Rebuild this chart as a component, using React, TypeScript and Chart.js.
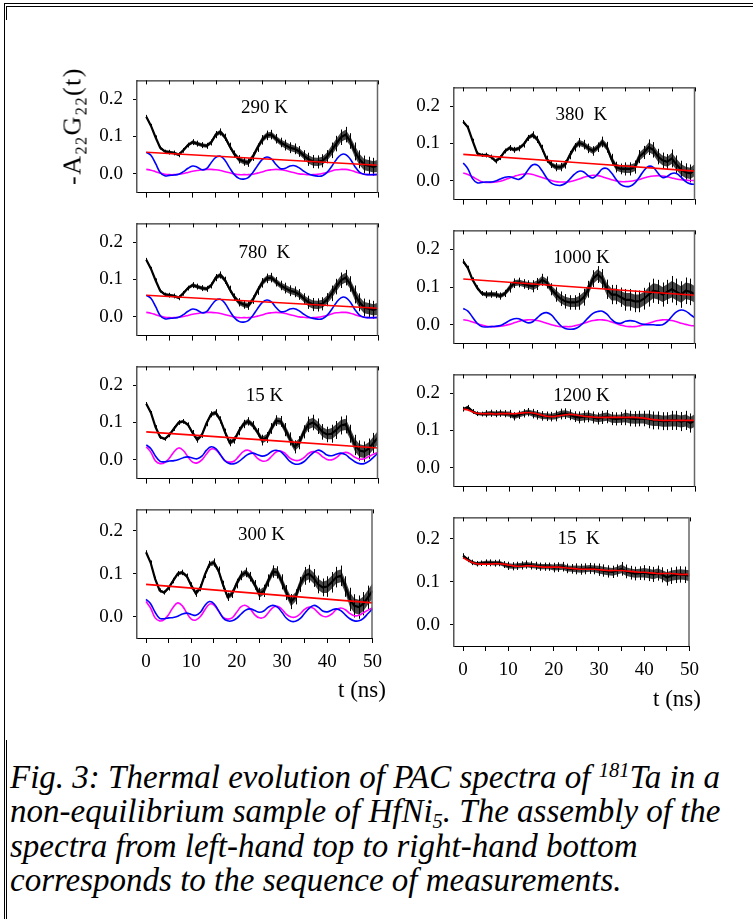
import React, { useEffect, useRef } from "react";
import { Chart, registerables } from "chart.js";

Chart.register(...registerables);

const SERIF = '"Liberation Serif", "Times New Roman", serif';

// time axis (ns)
const tNs = [
  0, 1, 2, 3, 4, 5, 6, 7, 8, 9,
  10, 11, 12, 13, 14, 15, 16, 17, 18, 19,
  20, 21, 22, 23, 24, 25, 26, 27, 28, 29,
  30, 31, 32, 33, 34, 35, 36, 37, 38, 39,
  40, 41, 42, 43, 44, 45, 46, 47, 48, 49,
  50,
];
const redLineT = [0, 50];

// ---- 290 K ----
const black290 = [
  0.153, 0.129, 0.098, 0.070, 0.060, 0.058, 0.056, 0.051, 0.063, 0.077,
  0.085, 0.081, 0.077, 0.075, 0.084, 0.105, 0.112, 0.098, 0.074, 0.053,
  0.039, 0.033, 0.030, 0.046, 0.070, 0.091, 0.103, 0.105, 0.094, 0.084,
  0.077, 0.070, 0.067, 0.060, 0.049, 0.039, 0.033, 0.032, 0.035, 0.046,
  0.063, 0.081, 0.098, 0.105, 0.088, 0.060, 0.039, 0.025, 0.022, 0.019,
  0.022,
];
const err290 = [0.003, 0.004, 0.005, 0.006, 0.007, 0.008, 0.009, 0.011, 0.013, 0.015, 0.016];
const red290 = [0.058, 0.023];
const blue290 = [
  0.058, 0.050, 0.028, 0.004, -0.005, -0.004, -0.003, -0.001, 0.006, 0.015,
  0.021, 0.018, 0.011, 0.014, 0.030, 0.044, 0.047, 0.036, 0.016, -0.002,
  -0.012, -0.014, -0.010, 0.004, 0.022, 0.038, 0.045, 0.040, 0.025, 0.014,
  0.015, 0.021, 0.022, 0.016, 0.007, 0.000, -0.004, -0.006, -0.005, 0.004,
  0.020, 0.038, 0.051, 0.052, 0.040, 0.020, 0.005, -0.001, -0.002, -0.002,
  -0.001,
];
const magenta290 = [
  0.012, 0.010, 0.006, 0.002, -0.001, -0.002, -0.002, -0.001, 0.001, 0.004,
  0.007, 0.009, 0.011, 0.012, 0.012, 0.011, 0.009, 0.006, 0.003, 0.000,
  -0.002, -0.002, -0.002, -0.001, 0.002, 0.005, 0.009, 0.011, 0.012, 0.011,
  0.009, 0.006, 0.003, 0.000, -0.001, -0.002, -0.002, -0.001, 0.001, 0.004,
  0.008, 0.011, 0.012, 0.012, 0.010, 0.006, 0.002, -0.001, -0.002, -0.002,
  -0.002,
];

// ---- 780 K (same shape as 290 K in the figure) ----
const black780 = black290;
const err780 = err290;
const red780 = red290;
const blue780 = blue290;
const magenta780 = magenta290;

// ---- 15 K (left) ----
const black15a = [
  0.150, 0.126, 0.088, 0.061, 0.056, 0.067, 0.084, 0.100, 0.103, 0.094,
  0.072, 0.054, 0.067, 0.098, 0.122, 0.126, 0.107, 0.074, 0.046, 0.053,
  0.077, 0.096, 0.103, 0.093, 0.074, 0.053, 0.060, 0.084, 0.105, 0.103,
  0.081, 0.056, 0.035, 0.046, 0.075, 0.095, 0.100, 0.090, 0.075, 0.068,
  0.070, 0.080, 0.092, 0.095, 0.070, 0.040, 0.025, 0.022, 0.030, 0.045,
  0.060,
];
const err15a = [0.003, 0.004, 0.005, 0.006, 0.007, 0.009, 0.011, 0.013, 0.015, 0.017, 0.018];
const red15a = [0.075, 0.032];
const blue15a = [
  0.040, 0.030, 0.010, -0.004, -0.005, -0.003, -0.002, 0.001, 0.006, 0.008,
  0.005, 0.003, 0.010, 0.026, 0.035, 0.030, 0.014, -0.003, -0.010, -0.010,
  -0.004, 0.006, 0.015, 0.018, 0.014, 0.010, 0.013, 0.022, 0.026, 0.022,
  0.010, -0.004, -0.011, -0.011, -0.005, 0.007, 0.019, 0.026, 0.022, 0.013,
  0.011, 0.015, 0.018, 0.014, 0.004, -0.005, -0.010, -0.010, -0.004, 0.007,
  0.018,
];
const magenta15a = [
  0.035, 0.020, -0.003, -0.010, -0.007, 0.005, 0.022, 0.032, 0.025, 0.008,
  -0.006, -0.008, 0.000, 0.016, 0.029, 0.027, 0.013, -0.002, -0.006, -0.003,
  0.010, 0.023, 0.026, 0.018, 0.004, -0.003, -0.002, 0.009, 0.021, 0.024,
  0.017, 0.005, -0.001, -0.001, 0.006, 0.017, 0.022, 0.019, 0.009, 0.001,
  0.000, 0.006, 0.016, 0.020, 0.016, 0.007, 0.002, 0.003, 0.009, 0.015,
  0.020,
];

// ---- 300 K (same shape as 15 K in the figure) ----
const black300 = black15a;
const err300 = err15a;
const red300 = red15a;
const blue300 = blue15a;
const magenta300 = magenta15a;

// ---- 380 K ----
const black380 = [
  0.158, 0.143, 0.108, 0.074, 0.069, 0.069, 0.064, 0.053, 0.062, 0.080,
  0.088, 0.083, 0.087, 0.097, 0.115, 0.123, 0.111, 0.087, 0.058, 0.044,
  0.037, 0.037, 0.044, 0.069, 0.090, 0.102, 0.097, 0.087, 0.080, 0.090,
  0.104, 0.090, 0.058, 0.037, 0.032, 0.032, 0.032, 0.037, 0.065, 0.076,
  0.090, 0.083, 0.065, 0.055, 0.051, 0.060, 0.044, 0.030, 0.023, 0.020,
  0.030,
];
const err380 = [0.003, 0.004, 0.005, 0.006, 0.007, 0.008, 0.009, 0.011, 0.013, 0.015, 0.016];
const red380 = [0.071, 0.026];
const blue380 = [
  0.048, 0.032, 0.006, -0.005, -0.004, -0.003, -0.003, 0.000, 0.005, 0.010,
  0.011, 0.007, 0.004, 0.012, 0.030, 0.043, 0.042, 0.027, 0.008, -0.006,
  -0.011, -0.012, -0.007, 0.005, 0.018, 0.026, 0.024, 0.013, 0.008, 0.018,
  0.032, 0.033, 0.021, 0.004, -0.010, -0.015, -0.014, -0.006, 0.010, 0.028,
  0.039, 0.036, 0.021, 0.009, 0.012, 0.020, 0.020, 0.010, -0.002, -0.008,
  -0.009,
];
const magenta380 = [
  0.021, 0.017, 0.011, 0.004, -0.002, -0.004, -0.004, -0.003, -0.001, 0.003,
  0.008, 0.012, 0.016, 0.018, 0.019, 0.017, 0.013, 0.009, 0.005, 0.001,
  -0.002, -0.003, -0.003, -0.002, 0.001, 0.005, 0.010, 0.013, 0.015, 0.014,
  0.011, 0.007, 0.003, 0.000, -0.002, -0.002, -0.001, 0.001, 0.004, 0.008,
  0.011, 0.013, 0.014, 0.013, 0.011, 0.008, 0.005, 0.003, 0.002, 0.001,
  0.001,
];

// ---- 1000 K ----
const black1000 = [
  0.168, 0.150, 0.119, 0.098, 0.083, 0.080, 0.081, 0.080, 0.076, 0.083,
  0.098, 0.110, 0.112, 0.108, 0.105, 0.102, 0.108, 0.119, 0.112, 0.094,
  0.080, 0.069, 0.062, 0.059, 0.059, 0.062, 0.073, 0.094, 0.122, 0.133,
  0.122, 0.094, 0.080, 0.080, 0.073, 0.066, 0.066, 0.062, 0.062, 0.069,
  0.080, 0.090, 0.087, 0.080, 0.087, 0.094, 0.087, 0.080, 0.090, 0.087,
  0.080,
];
const err1000 = [0.004, 0.006, 0.008, 0.010, 0.012, 0.014, 0.016, 0.018, 0.020, 0.022, 0.022];
const red1000 = [0.121, 0.078];
const blue1000 = [
  0.043, 0.036, 0.020, 0.004, -0.005, -0.006, -0.005, -0.004, -0.002, 0.004,
  0.011, 0.016, 0.016, 0.010, 0.005, 0.008, 0.019, 0.029, 0.032, 0.026,
  0.012, -0.002, -0.010, -0.012, -0.011, -0.005, 0.006, 0.019, 0.030, 0.035,
  0.036, 0.028, 0.014, 0.005, 0.004, 0.009, 0.011, 0.009, 0.004, 0.001,
  0.000, 0.000, -0.001, 0.000, 0.008, 0.022, 0.034, 0.039, 0.036, 0.027,
  0.018,
];
const magenta1000 = [
  0.013, 0.011, 0.007, 0.003, -0.001, -0.004, -0.005, -0.005, -0.004, -0.002,
  0.001, 0.005, 0.009, 0.012, 0.013, 0.013, 0.011, 0.008, 0.004, 0.000,
  -0.003, -0.005, -0.005, -0.005, -0.003, 0.000, 0.004, 0.008, 0.011, 0.013,
  0.013, 0.011, 0.007, 0.003, -0.001, -0.004, -0.005, -0.005, -0.003, 0.000,
  0.004, 0.008, 0.011, 0.013, 0.013, 0.011, 0.008, 0.004, 0.001, -0.002,
  -0.003,
];

// ---- 1200 K ----
const black1200 = [
  0.157, 0.162, 0.151, 0.145, 0.144, 0.145, 0.146, 0.145, 0.146, 0.145,
  0.144, 0.138, 0.142, 0.146, 0.149, 0.145, 0.142, 0.139, 0.138, 0.137,
  0.139, 0.144, 0.145, 0.142, 0.137, 0.135, 0.137, 0.138, 0.135, 0.132,
  0.135, 0.137, 0.132, 0.131, 0.132, 0.135, 0.132, 0.131, 0.132, 0.132,
  0.130, 0.127, 0.127, 0.125, 0.125, 0.127, 0.127, 0.124, 0.127, 0.120,
  0.127,
];
const err1200 = [0.004, 0.006, 0.007, 0.008, 0.009, 0.010, 0.011, 0.013, 0.015, 0.016, 0.017];
const red1200 = [
  0.157, 0.155, 0.150, 0.146, 0.145, 0.145, 0.145, 0.144, 0.145, 0.145,
  0.145, 0.145, 0.146, 0.147, 0.148, 0.147, 0.144, 0.141, 0.138, 0.137,
  0.138, 0.140, 0.142, 0.143, 0.142, 0.140, 0.138, 0.137, 0.136, 0.135,
  0.135, 0.135, 0.135, 0.135, 0.135, 0.135, 0.135, 0.135, 0.134, 0.133,
  0.131, 0.129, 0.128, 0.127, 0.127, 0.127, 0.127, 0.127, 0.127, 0.127,
  0.127,
];

// ---- 15 K (right) ----
const black15b = [
  0.160, 0.152, 0.145, 0.142, 0.143, 0.144, 0.144, 0.143, 0.144, 0.140,
  0.137, 0.136, 0.137, 0.138, 0.140, 0.138, 0.137, 0.135, 0.135, 0.135,
  0.133, 0.134, 0.135, 0.131, 0.130, 0.130, 0.129, 0.130, 0.131, 0.130,
  0.128, 0.126, 0.124, 0.123, 0.126, 0.130, 0.124, 0.121, 0.119, 0.120,
  0.121, 0.119, 0.117, 0.120, 0.116, 0.110, 0.114, 0.116, 0.117, 0.116,
  0.114,
];
const err15b = [0.004, 0.005, 0.006, 0.006, 0.007, 0.008, 0.009, 0.010, 0.011, 0.012, 0.013];
const red15b = [
  0.156, 0.150, 0.145, 0.142, 0.141, 0.141, 0.141, 0.142, 0.142, 0.141,
  0.139, 0.137, 0.136, 0.136, 0.137, 0.137, 0.136, 0.135, 0.134, 0.134,
  0.134, 0.134, 0.133, 0.132, 0.131, 0.130, 0.129, 0.129, 0.129, 0.129,
  0.128, 0.127, 0.126, 0.126, 0.126, 0.126, 0.125, 0.124, 0.123, 0.122,
  0.122, 0.121, 0.120, 0.119, 0.119, 0.119, 0.119, 0.118, 0.117, 0.117,
  0.117,
];

interface PanelSpec {
  label: string;
  black: number[];
  err: number[];
  redT: number[];
  red: number[];
  blue?: number[];
  magenta?: number[];
}

const panelSpecs: PanelSpec[] = [
  { label: "290 K", black: black290, err: err290, redT: redLineT, red: red290, blue: blue290, magenta: magenta290 },
  { label: "780  K", black: black780, err: err780, redT: redLineT, red: red780, blue: blue780, magenta: magenta780 },
  { label: "15 K", black: black15a, err: err15a, redT: redLineT, red: red15a, blue: blue15a, magenta: magenta15a },
  { label: "300 K", black: black300, err: err300, redT: redLineT, red: red300, blue: blue300, magenta: magenta300 },
  { label: "380  K", black: black380, err: err380, redT: redLineT, red: red380, blue: blue380, magenta: magenta380 },
  { label: "1000 K", black: black1000, err: err1000, redT: redLineT, red: red1000, blue: blue1000, magenta: magenta1000 },
  { label: "1200 K", black: black1200, err: err1200, redT: tNs, red: red1200 },
  { label: "15  K", black: black15b, err: err15b, redT: tNs, red: red15b },
];

interface Geo { left: number; top: number; h: number; bottom: boolean; labelDy: number; }
const panelGeo: Geo[] = [
  { left: 137, top: 65, h: 143, bottom: false, labelDy: 28 },
  { left: 137, top: 208, h: 143, bottom: false, labelDy: 30 },
  { left: 137, top: 351, h: 143, bottom: false, labelDy: 30 },
  { left: 137, top: 494, h: 144, bottom: true, labelDy: 26 },
  { left: 454, top: 72, h: 143, bottom: false, labelDy: 28 },
  { left: 454, top: 215, h: 144, bottom: false, labelDy: 28 },
  { left: 454, top: 359, h: 143, bottom: false, labelDy: 22 },
  { left: 454, top: 502, h: 144, bottom: true, labelDy: 22 },
];

const AXW = 60;
const PADT = 6;
const PADR = 12;
const PLOTW = 241;

function Panel({ spec, geo }: { spec: PanelSpec; geo: Geo }) {
  const ref = useRef<HTMLCanvasElement | null>(null);
  const axH = geo.bottom ? 34 : 6;
  const W = AXW + PLOTW + PADR;
  const H = PADT + geo.h + axH;

  useEffect(() => {
    if (!ref.current) return;
    const pts = (xs: number[], ys: number[]) => ys.map((y, i) => ({ x: xs[i], y }));
    const errAt = (i: number) => spec.err[Math.floor(tNs[i] / 5)];
    const upper = spec.black.map((v, i) => ({ x: tNs[i], y: v + errAt(i) }));
    const lower = spec.black.map((v, i) => ({ x: tNs[i], y: v - errAt(i) }));
    const datasets: any[] = [
      { data: pts(spec.redT, spec.red), borderColor: "#ff0000", borderWidth: 1.6, tension: 0.4, order: 0, fill: false },
      { data: pts(tNs, spec.black), borderColor: "#000000", borderWidth: 2.2, tension: 0, order: 1, fill: false },
      { data: upper, borderColor: "rgba(0,0,0,0)", borderWidth: 1, tension: 0, order: 2, fill: false },
      { data: lower, borderColor: "rgba(0,0,0,0)", borderWidth: 1, tension: 0, order: 2, fill: "-1", backgroundColor: "rgba(0,0,0,0.72)" },
    ];
    if (spec.blue) datasets.push({ data: pts(tNs, spec.blue), borderColor: "#0000ff", borderWidth: 1.6, tension: 0.4, order: 3, fill: false });
    if (spec.magenta) datasets.push({ data: pts(tNs, spec.magenta), borderColor: "#ff00ff", borderWidth: 1.6, tension: 0.4, order: 4, fill: false });

    const errorBarPlugin = {
      id: "errbars",
      beforeDatasetsDraw(chart: any) {
        const { ctx, scales, chartArea: a } = chart;
        const x = scales.x, y = scales.y;
        ctx.save();
        ctx.beginPath();
        ctx.rect(a.left, a.top, a.right - a.left, a.bottom - a.top);
        ctx.clip();
        ctx.strokeStyle = "#000";
        ctx.lineWidth = 1;
        spec.black.forEach((v, i) => {
          const e = errAt(i) * 1.6;
          const px = Math.round(x.getPixelForValue(tNs[i])) + 0.5;
          ctx.beginPath();
          ctx.moveTo(px, y.getPixelForValue(v - e));
          ctx.lineTo(px, y.getPixelForValue(v + e));
          ctx.stroke();
        });
        ctx.restore();
      },
    };

    const framePlugin = {
      id: "frame",
      afterDraw(chart: any) {
        const { ctx, chartArea: a, scales } = chart;
        const x = scales.x;
        ctx.save();
        ctx.strokeStyle = "#000";
        ctx.lineWidth = 1;
        ctx.beginPath();
        ctx.moveTo(a.left, a.top + 0.5);
        ctx.lineTo(a.right, a.top + 0.5);
        ctx.stroke();
        ctx.strokeStyle = "#666";
        ctx.lineWidth = 1.5;
        ctx.beginPath();
        ctx.moveTo(a.right - 0.5, a.top);
        ctx.lineTo(a.right - 0.5, a.bottom);
        ctx.stroke();
        ctx.strokeStyle = "#000";
        ctx.lineWidth = 1;
        for (const t of x.ticks) {
          const px = Math.round(x.getPixelForValue(t.value)) + 0.5;
          ctx.beginPath();
          ctx.moveTo(px, a.top);
          ctx.lineTo(px, a.top + 4);
          ctx.stroke();
        }
        ctx.fillStyle = "#000";
        ctx.font = "19px " + SERIF;
        ctx.textAlign = "center";
        ctx.textBaseline = "middle";
        ctx.fillText(spec.label, x.getPixelForValue(25.5), a.top + geo.labelDy);
        ctx.restore();
      },
    };

    const chart = new Chart(ref.current, {
      type: "line",
      data: { datasets },
      options: {
        responsive: false,
        animation: false,
        devicePixelRatio: 1,
        layout: { padding: { top: PADT, right: PADR, left: 0, bottom: 0 } },
        elements: { point: { radius: 0 } },
        plugins: { legend: { display: false }, tooltip: { enabled: false }, title: { display: false } },
        scales: {
          x: {
            type: "linear",
            min: -2,
            max: 50,
            ticks: {
              stepSize: 5,
              includeBounds: false,
              display: geo.bottom,
              maxRotation: 0,
              autoSkip: false,
              padding: 8,
              color: "#000",
              font: { size: 19, family: SERIF },
              callback: (v: any) => (Math.round(Number(v)) % 10 === 0 ? String(Math.round(Number(v))) : ""),
            },
            grid: { drawOnChartArea: false, drawTicks: true, tickLength: 5, color: "#000" },
            border: { display: true, color: "#000", width: 1 },
            afterFit: (s: any) => { s.height = axH; },
          } as any,
          y: {
            min: -0.05,
            max: 0.25,
            ticks: {
              stepSize: 0.05,
              padding: 10,
              autoSkip: false,
              color: "#000",
              font: { size: 19, family: SERIF },
              callback: (v: any) => {
                const n = Number(v);
                const k = Math.round(n * 10);
                if (Math.abs(n * 10 - k) > 1e-6 || k < 0 || k > 2) return null;
                return (k / 10).toFixed(1);
              },
            },
            grid: { drawOnChartArea: false, drawTicks: true, tickLength: 4, color: "#000" },
            border: { display: true, color: "#555", width: 1.5 },
            afterFit: (s: any) => { s.width = AXW; },
          } as any,
        },
      },
      plugins: [errorBarPlugin, framePlugin],
    });
    return () => chart.destroy();
  }, []);

  return (
    <canvas
      ref={ref}
      width={W}
      height={H}
      style={{ position: "absolute", left: geo.left - AXW, top: geo.top - PADT, width: W, height: H }}
    />
  );
}

const captionLines = [
  <>Fig. 3: Thermal evolution of PAC spectra of <span style={{ fontSize: "0.62em", position: "relative", top: "-0.55em" }}>181</span>Ta in a</>,
  <>non-equilibrium sample of HfNi<span style={{ fontSize: "0.62em", position: "relative", top: "0.3em" }}>5</span>. The assembly of the</>,
  <>spectra from left-hand top to right-hand bottom</>,
  <>corresponds to the sequence of measurements.</>,
];
const captionTops = [760, 794, 829, 863];

export default function App() {
  return (
    <div style={{ position: "absolute", left: 0, top: 0, width: 753, height: 919, background: "#fff", overflow: "hidden", fontFamily: SERIF, color: "#000" }}>
      {/* page frame */}
      <div style={{ position: "absolute", left: 4, top: 3, width: 749, height: 0, borderTop: "1px solid #000" }} />
      <div style={{ position: "absolute", left: 6, top: 6, width: 747, height: 0, borderTop: "1px solid #000" }} />
      <div style={{ position: "absolute", left: 4, top: 3, width: 0, height: 916, borderLeft: "1px solid #000" }} />
      <div style={{ position: "absolute", left: 6, top: 6, width: 0, height: 14, borderLeft: "1px solid #000" }} />
      <div style={{ position: "absolute", left: 6, top: 740, width: 0, height: 179, borderLeft: "1px solid #000" }} />

      {panelSpecs.map((s, i) => (
        <Panel key={i} spec={s} geo={panelGeo[i]} />
      ))}

      {/* y axis title */}
      <div style={{ position: "absolute", left: 74, top: 126, transform: "translate(-50%, -50%) rotate(-90deg)", whiteSpace: "nowrap", fontSize: 26, lineHeight: "28px", letterSpacing: "1.5px" }}>
        -A<span style={{ fontSize: "0.62em", position: "relative", top: "0.35em" }}>22</span>G<span style={{ fontSize: "0.62em", position: "relative", top: "0.35em" }}>22</span>(t)
      </div>

      {/* x axis titles */}
      <div style={{ position: "absolute", left: 338, top: 678, fontSize: 23, lineHeight: "24px", whiteSpace: "nowrap" }}>t (ns)</div>
      <div style={{ position: "absolute", left: 653, top: 687, fontSize: 23, lineHeight: "24px", whiteSpace: "nowrap" }}>t (ns)</div>

      {/* caption */}
      {captionLines.map((c, i) => (
        <div key={i} style={{ position: "absolute", left: 10, top: captionTops[i], fontSize: 33, lineHeight: "34px", fontStyle: "italic", whiteSpace: "nowrap" }}>
          {c}
        </div>
      ))}
    </div>
  );
}
